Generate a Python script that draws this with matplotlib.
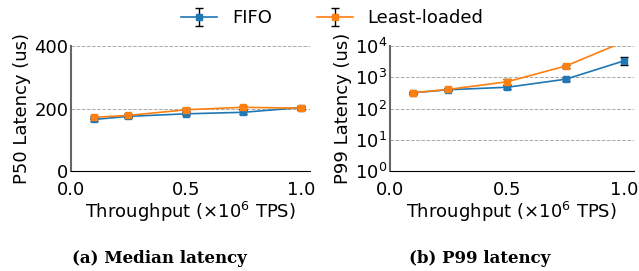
import matplotlib
matplotlib.use("Agg")
import matplotlib.pyplot as plt
import numpy as np

throughput = [0.1, 0.25, 0.5, 0.75, 1.0]

p50_fifo = [165, 175, 183, 188, 203]
p50_fifo_err = [6, 5, 5, 6, 6]
p50_ll = [172, 178, 196, 204, 201]
p50_ll_err = [5, 5, 5, 5, 5]

p99_fifo = [320, 400, 480, 870, 3400]
p99_fifo_err = [30, 30, 70, 110, 1000]
p99_ll = [320, 410, 720, 2300, 14000]
p99_ll_err = [30, 30, 160, 250, 1000]

BLUE = "#1f77b4"
ORANGE = "#ff7f0e"

plt.rcParams["font.family"] = ["DejaVu Sans"]
plt.rcParams["font.size"] = 13

fig = plt.figure(figsize=(6.39, 2.71), dpi=100)
ax1 = fig.add_axes([0.111, 0.369, 0.374, 0.461])
ax2 = fig.add_axes([0.610, 0.369, 0.382, 0.461])


def style(ax):
    ax.spines["top"].set_visible(False)
    ax.spines["right"].set_visible(False)
    ax.spines["left"].set_color("#666666")
    ax.spines["left"].set_linewidth(1.5)
    ax.spines["bottom"].set_color("black")
    ax.grid(axis="y", linestyle="--", color="#aaaaaa", linewidth=0.7)
    ax.set_axisbelow(True)
    ax.set_xlim(0, 1.04)
    ax.set_xticks([0.0, 0.5, 1.0])
    ax.tick_params(axis="y", length=0, pad=2, labelsize=13)
    ax.tick_params(axis="x", length=0, pad=7, labelsize=13)
    ax.set_xlabel(r"Throughput ($\times 10^6$ TPS)", fontsize=13, labelpad=1)


kw = dict(marker="s", markersize=5, linewidth=1.2, capsize=3, ecolor="black",
          elinewidth=1, clip_on=True)

h1 = ax1.errorbar(throughput, p50_fifo, yerr=p50_fifo_err, color=BLUE, label="FIFO", **kw)
h2 = ax1.errorbar(throughput, p50_ll, yerr=p50_ll_err, color=ORANGE, label="Least-loaded", **kw)
ax1.set_ylim(0, 400)
ax1.set_yticks([0, 200, 400])
ax1.set_ylabel("P50 Latency (us)", fontsize=13, labelpad=2)
style(ax1)

ax2.errorbar(throughput, p99_fifo, yerr=p99_fifo_err, color=BLUE, **kw)
ax2.errorbar(throughput, p99_ll, yerr=p99_ll_err, color=ORANGE, **kw)
ax2.set_yscale("log")
ax2.set_ylim(1, 1e4)
ax2.set_yticks([1, 10, 100, 1000, 10000])
ax2.minorticks_off()
ax2.set_ylabel("P99 Latency (us)", fontsize=13, labelpad=2)
style(ax2)

fig.legend(handles=[h1, h2], labels=["FIFO", "Least-loaded"], loc="upper center",
           bbox_to_anchor=(0.52, 1.025), ncol=2, frameon=False, fontsize=13,
           columnspacing=2.5, handlelength=2.0)

fig.text(0.25, 0.03, "(a) Median latency", ha="center", fontsize=12,
         fontweight="bold", family="DejaVu Serif")
fig.text(0.75, 0.03, "(b) P99 latency", ha="center", fontsize=12,
         fontweight="bold", family="DejaVu Serif")

fig.savefig("out.png", dpi=100)
